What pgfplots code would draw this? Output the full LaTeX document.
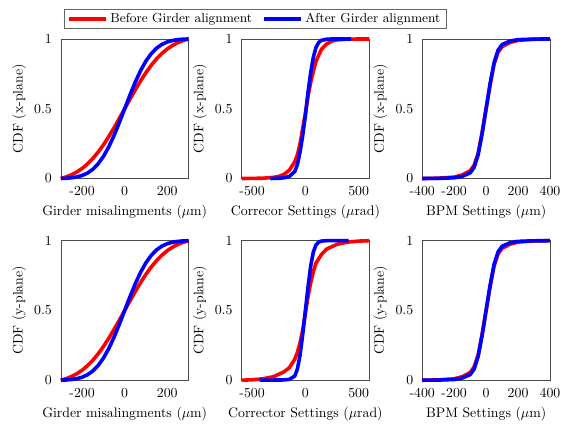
\documentclass[border=0pt]{standalone}
\usepackage{pgfplots}
\pgfplotsset{compat=1.18}
\usepgfplotslibrary{groupplots}

\pgfplotsset{
  cdfaxis/.style={
    scale only axis,
    width=92.5pt, height=101pt,
    ymin=0, ymax=1,
    ytick={0,0.5,1}, yticklabels={0,0.5,1},
    axis line style={black!70},
    major tick length=0pt,
    clip=false,
    every axis plot/.append style={line width=2.6pt},
    yticklabel style={xshift=-3pt},
    xticklabel style={inner xsep=0pt, yshift=-2pt},
    ylabel style={yshift=-1pt},
  },
}

\begin{document}
\begin{tikzpicture}
\begin{groupplot}[
    group style={group size=3 by 2, horizontal sep=38.3pt, vertical sep=45pt},
    cdfaxis,
  ]
  % ---- top row: x-plane
  \nextgroupplot[xmin=-300, xmax=300, xtick={-200,0,200}, xticklabels={-200,0,200},
    xlabel={Girder misalingments ($\mu$m)}, ylabel={CDF (x-plane)},
    legend columns=2,
    legend style={at={(1.519,1.1436)}, anchor=center, draw=black!60,
      font=\fontsize{9.4}{11}\selectfont,
      /tikz/every even column/.append style={column sep=5pt},
      inner xsep=2pt, inner ysep=1pt},
    legend image code/.code={\draw[#1] (0cm,0cm) -- (0.95cm,0cm);},
  ]
  \addplot[red] coordinates {(-300,0) (-275,0.0112) (-250,0.0262) (-225,0.0462) (-200,0.0717) (-175,0.1036) (-150,0.1424) (-125,0.1883) (-100,0.2407) (-75,0.2994) (-50,0.3634) (-25,0.4307) (0,0.5) (25,0.5693) (50,0.6366) (75,0.7006) (100,0.7593) (125,0.8117) (150,0.8576) (175,0.8964) (200,0.9283) (225,0.9538) (250,0.9738) (275,0.9888) (300,1)};
  \addlegendentry{Before Girder alignment}
  \addplot[blue] coordinates {(-300,0) (-275,0.0016) (-250,0.0049) (-225,0.0109) (-200,0.0215) (-175,0.0388) (-150,0.0656) (-125,0.1046) (-100,0.1577) (-75,0.2259) (-50,0.3080) (-25,0.4010) (0,0.5) (25,0.5990) (50,0.6920) (75,0.7741) (100,0.8423) (125,0.8954) (150,0.9344) (175,0.9612) (200,0.9785) (225,0.9891) (250,0.9951) (275,0.9984) (300,1)};
  \addlegendentry{After Girder alignment}

  \nextgroupplot[xmin=-600, xmax=600, xtick={-500,0,500}, xticklabels={-500,0,500},
    xlabel={Correcor Settings ($\mu$rad)}, ylabel={CDF (x-plane)}]
  \addplot[red] coordinates {(-600,0) (-400,0.002) (-300,0.008) (-250,0.015) (-200,0.03) (-150,0.06) (-100,0.12) (-75,0.17) (-50,0.25) (-25,0.36) (0,0.47) (25,0.59) (50,0.69) (75,0.77) (100,0.84) (150,0.925) (200,0.965) (250,0.985) (300,0.994) (400,0.999) (600,1)};
  \addplot[blue] coordinates {(-330,0) (-250,0.002) (-200,0.005) (-150,0.015) (-100,0.05) (-75,0.10) (-50,0.19) (-25,0.31) (0,0.45) (25,0.62) (50,0.76) (75,0.87) (100,0.94) (125,0.975) (150,0.99) (200,0.998) (250,1) (430,1)};

  \nextgroupplot[xmin=-400, xmax=400, xtick={-400,-200,0,200,400}, xticklabels={-400,-200,0,200,400},
    xlabel={BPM Settings ($\mu$m)}, ylabel={CDF (x-plane)}]
  \addplot[red] coordinates {(-400,0) (-300,0.002) (-200,0.01) (-150,0.025) (-100,0.055) (-75,0.095) (-50,0.18) (-25,0.33) (0,0.5) (25,0.67) (50,0.82) (75,0.905) (100,0.945) (150,0.975) (200,0.99) (300,0.998) (400,1)};
  \addplot[blue] coordinates {(-400,0) (-300,0.001) (-200,0.005) (-150,0.015) (-100,0.04) (-75,0.08) (-50,0.17) (-25,0.32) (0,0.5) (25,0.68) (50,0.83) (75,0.92) (100,0.96) (150,0.985) (200,0.995) (300,0.999) (400,1)};

  % ---- bottom row: y-plane
  \nextgroupplot[xmin=-300, xmax=300, xtick={-200,0,200}, xticklabels={-200,0,200},
    xlabel={Girder misalingments ($\mu$m)}, ylabel={CDF (y-plane)}]
  \addplot[red] coordinates {(-300,0) (-275,0.0112) (-250,0.0262) (-225,0.0462) (-200,0.0717) (-175,0.1036) (-150,0.1424) (-125,0.1883) (-100,0.2407) (-75,0.2994) (-50,0.3634) (-25,0.4307) (0,0.5) (25,0.5693) (50,0.6366) (75,0.7006) (100,0.7593) (125,0.8117) (150,0.8576) (175,0.8964) (200,0.9283) (225,0.9538) (250,0.9738) (275,0.9888) (300,1)};
  \addplot[blue] coordinates {(-300,0) (-275,0.0016) (-250,0.0049) (-225,0.0109) (-200,0.0215) (-175,0.0388) (-150,0.0656) (-125,0.1046) (-100,0.1577) (-75,0.2259) (-50,0.3080) (-25,0.4010) (0,0.5) (25,0.5990) (50,0.6920) (75,0.7741) (100,0.8423) (125,0.8954) (150,0.9344) (175,0.9612) (200,0.9785) (225,0.9891) (250,0.9951) (275,0.9984) (300,1)};

  \nextgroupplot[xmin=-600, xmax=600, xtick={-500,0,500}, xticklabels={-500,0,500},
    xlabel={Corrector Settings ($\mu$rad)}, ylabel={CDF (y-plane)}]
  \addplot[red] coordinates {(-600,0) (-500,0.003) (-400,0.01) (-300,0.025) (-200,0.06) (-150,0.09) (-100,0.15) (-75,0.2) (-50,0.27) (-25,0.36) (0,0.48) (25,0.6) (50,0.7) (75,0.78) (100,0.84) (150,0.9) (200,0.94) (300,0.975) (400,0.99) (500,0.997) (600,1)};
  \addplot[blue] coordinates {(-430,0) (-200,0.002) (-150,0.006) (-100,0.03) (-75,0.08) (-50,0.18) (-25,0.33) (0,0.5) (25,0.67) (50,0.82) (75,0.92) (100,0.97) (125,0.99) (150,0.997) (200,1) (405,1)};

  \nextgroupplot[xmin=-400, xmax=400, xtick={-400,-200,0,200,400}, xticklabels={-400,-200,0,200,400},
    xlabel={BPM Settings ($\mu$m)}, ylabel={CDF (y-plane)}]
  \addplot[red] coordinates {(-400,0) (-300,0.002) (-200,0.01) (-150,0.025) (-100,0.055) (-75,0.095) (-50,0.18) (-25,0.33) (0,0.5) (25,0.67) (50,0.82) (75,0.905) (100,0.945) (150,0.975) (200,0.99) (300,0.998) (400,1)};
  \addplot[blue] coordinates {(-400,0) (-300,0.001) (-200,0.005) (-150,0.015) (-100,0.04) (-75,0.08) (-50,0.17) (-25,0.32) (0,0.5) (25,0.68) (50,0.83) (75,0.92) (100,0.96) (150,0.985) (200,0.995) (300,0.999) (400,1)};
\end{groupplot}
% white margins as in the reference
\path (group c1r1.north west) ++(-44pt,28.2pt);
\path (group c3r2.south east) ++(12.3pt,-31pt);
\end{tikzpicture}
\end{document}
